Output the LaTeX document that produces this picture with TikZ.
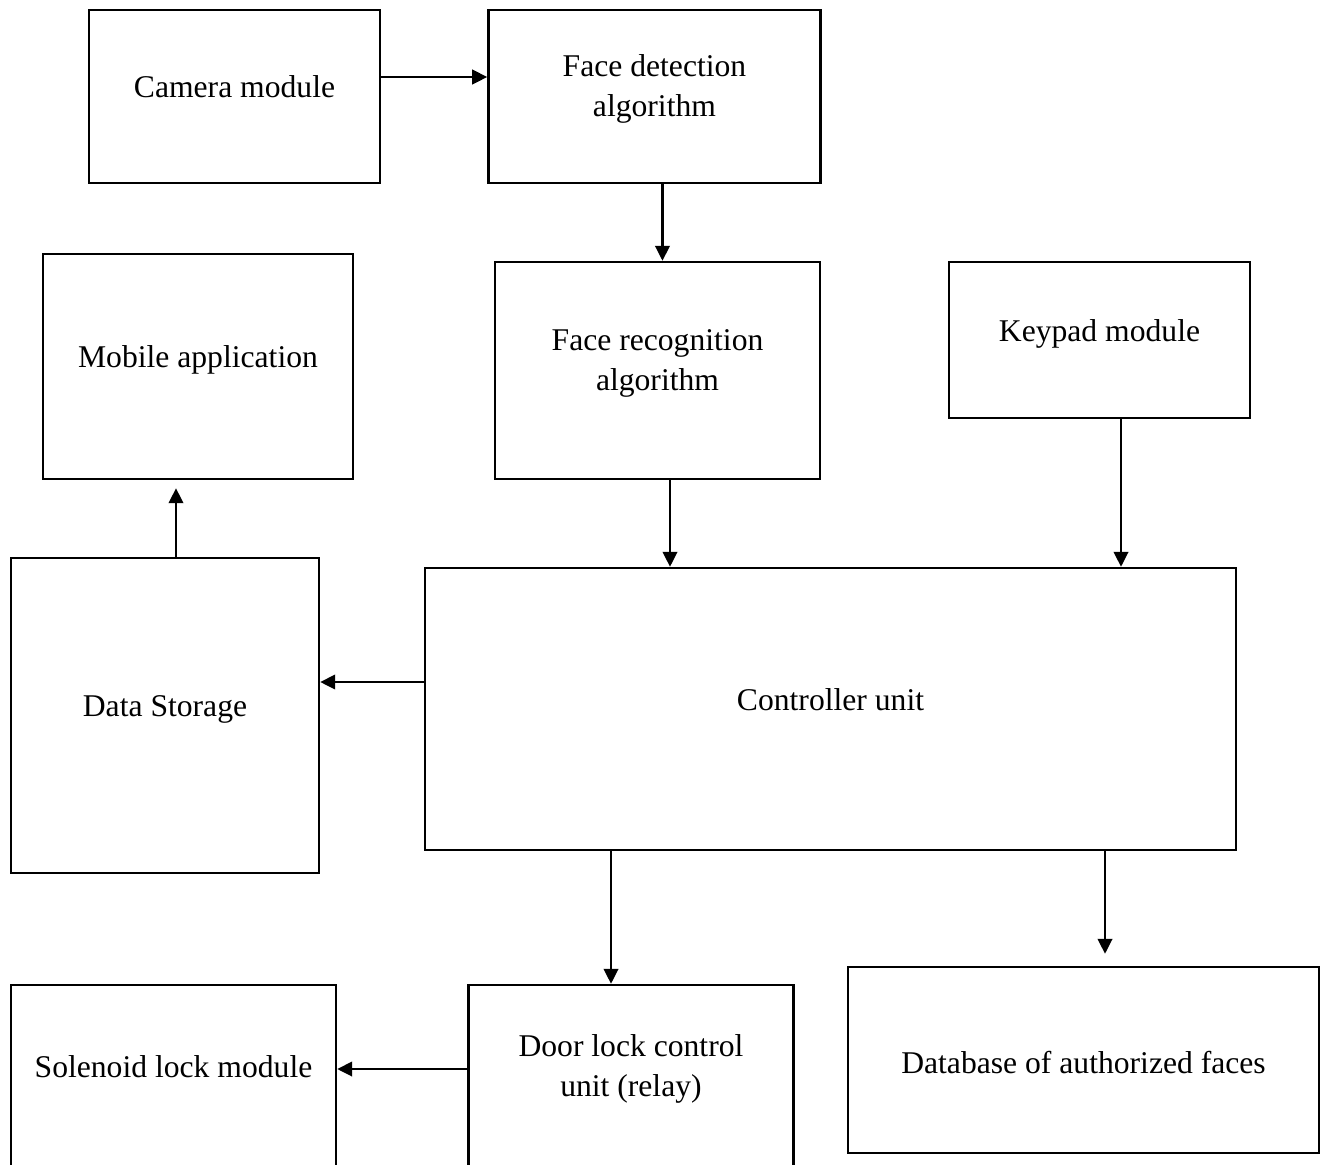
\documentclass[tikz,border=0pt]{standalone}
\usepackage{fontspec}
\setmainfont{Liberation Serif}
\usetikzlibrary{positioning,arrows.meta}

\begin{document}
\begin{tikzpicture}[main/.style = {draw, line width=1.4pt, inner sep=0pt},
    txt/.style = {font=\fontsize{18}{22.7}\selectfont, align=center},
    arr/.style = {line width=1.4pt, -{Triangle[length=3mm, width=2.9mm]}}]
            \clip (0,0) rectangle (26.54,-23.28);
            \node[main, minimum width=5.82cm, minimum height=3.46cm, label={[txt, yshift=1.9mm]center:Camera module}] (1) at (4.69,-1.93) {};
            \node[main, minimum width=6.64cm, minimum height=3.46cm, label={[txt, yshift=1.5mm]center:Face detection\\algorithm}] (2) [right=2.12cm of 1] {};
            \node[main, minimum width=6.20cm, minimum height=4.50cm, label={[txt, yshift=1.4mm]center:Mobile application}] (3) at (3.96,-7.33) {};
            \node[main, minimum width=6.50cm, minimum height=4.34cm, label={[txt, yshift=1.4mm]center:Face recognition\\algorithm}] (4) at (13.15,-7.41) {};
            \node[main, minimum width=6.02cm, minimum height=3.12cm, label={[txt, yshift=1.3mm]center:Keypad module}] (5) at (21.99,-6.80) {};
            \node[main, minimum width=6.16cm, minimum height=6.30cm, label={[txt, yshift=1.3mm]center:Data Storage}] (6) at (3.30,-14.31) {};
            \node[main, minimum width=16.22cm, minimum height=5.64cm, label={[txt, yshift=1.8mm]center:Controller unit}] (7) at (16.61,-14.18) {};
            \node[main, minimum width=6.50cm, minimum height=4.00cm, label={[txt, yshift=3.6mm]center:Solenoid lock module}] (8) at (3.47,-21.70) {};
            \node[main, minimum width=6.50cm, minimum height=4.00cm, label={[txt, yshift=3.2mm]center:Door lock control\\unit (relay)}] (9) [right=2.60cm of 8] {};
            \node[main, minimum width=9.42cm, minimum height=3.72cm, label={[txt, yshift=-0.4mm]center:Database of authorized faces}] (10) at (21.67,-21.20) {};
            \draw[arr] ([yshift=3.9mm]1.east) -- ([yshift=3.9mm]2.west);
            \draw[arr] ([xshift=1.6mm]2.south) -- ([xshift=1.6mm]2.south |- 4.north);
            \draw[arr] ([xshift=2.5mm]4.south) -- ([xshift=2.5mm]4.south |- 7.north);
            \draw[arr] ([xshift=4.3mm]5.south) -- ([xshift=4.3mm]5.south |- 7.north);
            \draw[arr, shorten >=1.6mm] ([xshift=2.2mm]6.north) -- ([xshift=2.2mm]6.north |- 3.south);
            \draw[arr] ([yshift=5.4mm]7.west) -- ([yshift=5.4mm]7.west -| 6.east);
            \draw[arr] ([xshift=-43.9mm]7.south) -- ([xshift=-43.9mm]7.south |- 9.north);
            \draw[arr, shorten >=2.4mm] ([xshift=54.9mm]7.south) -- ([xshift=54.9mm]7.south |- 10.north);
            \draw[arr] ([yshift=3.2mm]9.west) -- ([yshift=3.2mm]9.west -| 8.east);
        \end{tikzpicture}
\end{document}
